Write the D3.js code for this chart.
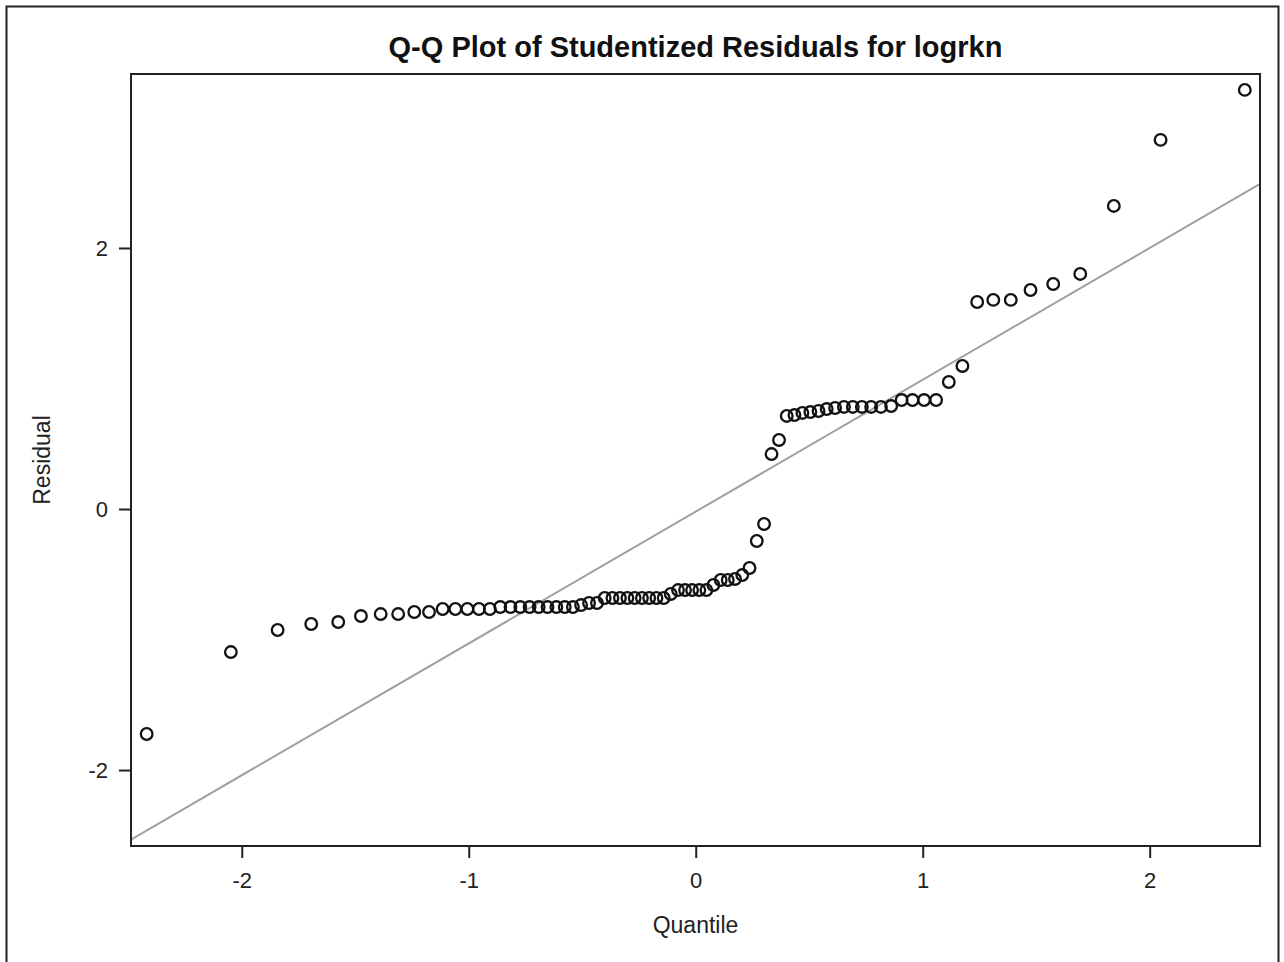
<!DOCTYPE html>
<html><head><meta charset="utf-8">
<script src="https://cdn.jsdelivr.net/npm/d3@7"></script>
<style>html,body{margin:0;padding:0;background:#fff;} text{font-family:"Liberation Sans",Arial,sans-serif;}</style>
</head><body><svg id="c" width="1284" height="962"></svg>
<script>
const titleText = "Q-Q Plot of Studentized Residuals for logrkn";
const xLabel = "Quantile";
const yLabel = "Residual";
const xTicks = [-2, -1, 0, 1, 2];
const yTicks = [-2, 0, 2];
const quantiles = [-2.419,-2.048,-1.842,-1.694,-1.575,-1.475,-1.388,-1.311,-1.240,-1.175,
  -1.115,-1.059,-1.006,-0.955,-0.907,-0.861,-0.816,-0.773,-0.732,-0.692,
  -0.653,-0.614,-0.577,-0.541,-0.505,-0.470,-0.435,-0.401,-0.367,-0.334,
  -0.301,-0.269,-0.237,-0.205,-0.173,-0.141,-0.110,-0.078,-0.047,-0.016,
  0.016,0.047,0.078,0.110,0.141,0.173,0.205,0.237,0.269,0.301,
  0.334,0.367,0.401,0.435,0.470,0.505,0.541,0.577,0.614,0.653,
  0.692,0.732,0.773,0.816,0.861,0.907,0.955,1.006,1.059,1.115,
  1.175,1.240,1.311,1.388,1.475,1.575,1.694,1.842,2.048,2.419];
const residuals = [-1.724,-1.096,-0.927,-0.881,-0.866,-0.820,-0.805,-0.805,-0.789,-0.789,
  -0.766,-0.766,-0.766,-0.766,-0.766,-0.751,-0.751,-0.751,-0.751,-0.751,
  -0.751,-0.751,-0.751,-0.751,-0.736,-0.720,-0.720,-0.682,-0.682,-0.682,
  -0.682,-0.682,-0.682,-0.682,-0.682,-0.682,-0.651,-0.621,-0.621,-0.621,
  -0.621,-0.621,-0.582,-0.544,-0.544,-0.536,-0.506,-0.452,-0.245,-0.115,
  0.421,0.529,0.713,0.720,0.736,0.743,0.751,0.766,0.774,0.782,
  0.782,0.782,0.782,0.782,0.789,0.835,0.835,0.835,0.835,0.973,
  1.096,1.586,1.602,1.602,1.678,1.724,1.801,2.322,2.828,3.211];
const refLine = {intercept: -0.02, slope: 1.01};
const xDomain = [-2.488, 2.486];
const yDomain = [-2.582, 3.333];

const svg = d3.select("#c");
svg.append("rect").attr("width",1284).attr("height",962).attr("fill","#fff");
svg.append("rect").attr("x",6.5).attr("y",6.5).attr("width",1272).attr("height",970)
  .attr("fill","none").attr("stroke","#222").attr("stroke-width",2);

const L=131, R=1260, T=74, B=846;
const x = d3.scaleLinear().domain(xDomain).range([L,R]);
const y = d3.scaleLinear().domain(yDomain).range([B,T]);

svg.append("defs").append("clipPath").attr("id","clip")
  .append("rect").attr("x",L).attr("y",T).attr("width",R-L).attr("height",B-T);

// reference line
const lx = xDomain;
svg.append("line").attr("clip-path","url(#clip)")
  .attr("x1",x(lx[0])).attr("y1",y(refLine.intercept+refLine.slope*lx[0]))
  .attr("x2",x(lx[1])).attr("y2",y(refLine.intercept+refLine.slope*lx[1]))
  .attr("stroke","#a0a0a0").attr("stroke-width",2);

// points
svg.append("g").selectAll("circle").data(quantiles.map((q,i)=>[q,residuals[i]]))
  .join("circle").attr("cx",d=>x(d[0])).attr("cy",d=>y(d[1])).attr("r",5.8)
  .attr("fill","none").attr("stroke","#111").attr("stroke-width",2.3);

// axes
const xa = svg.append("g").attr("transform",`translate(0,${B})`)
  .call(d3.axisBottom(x).tickValues(xTicks).tickSize(12).tickPadding(14).tickFormat(d3.format("d")));
const ya = svg.append("g").attr("transform",`translate(${L},0)`)
  .call(d3.axisLeft(y).tickValues(yTicks).tickSize(12).tickPadding(11).tickFormat(d3.format("d")));
[xa,ya].forEach(g=>{
  g.select(".domain").remove();
  g.selectAll("line").attr("stroke","#222").attr("stroke-width",2);
  g.selectAll("text").attr("fill","#222").style("font-size","22px")
    .style("font-family","'Liberation Sans',Arial,sans-serif");
});
xa.selectAll("text").text(d=>d<0?"-"+Math.abs(d):d);
ya.selectAll("text").text(d=>d<0?"-"+Math.abs(d):d);

// frame
svg.append("rect").attr("x",L).attr("y",T).attr("width",R-L).attr("height",B-T)
  .attr("fill","none").attr("stroke","#222").attr("stroke-width",2);

svg.append("text").attr("x",(L+R)/2).attr("y",57).attr("text-anchor","middle")
  .style("font-size","29px").style("font-weight","bold").attr("fill","#111").text(titleText);
svg.append("text").attr("x",(L+R)/2).attr("y",933).attr("text-anchor","middle")
  .style("font-size","23px").attr("fill","#222").text(xLabel);
svg.append("text").attr("transform",`translate(50,${(T+B)/2}) rotate(-90)`).attr("text-anchor","middle")
  .style("font-size","23px").attr("fill","#222").text(yLabel);
</script></body></html>
